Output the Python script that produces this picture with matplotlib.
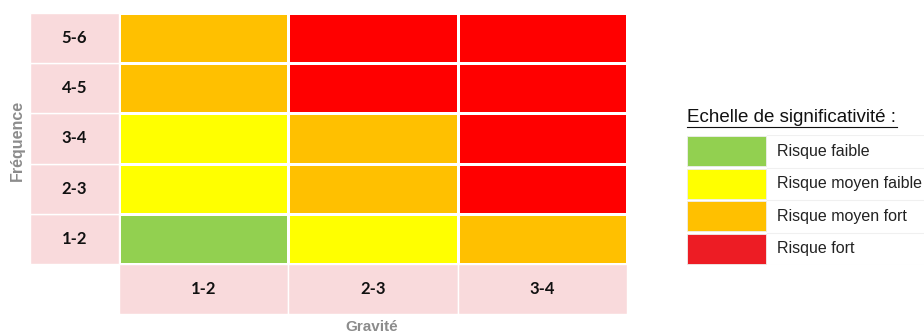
import numpy as np
import matplotlib.pyplot as plt
from matplotlib.patches import Rectangle
from matplotlib.colors import ListedColormap

freq_labels = ["1-2", "2-3", "3-4", "4-5", "5-6"]
grav_labels = ["1-2", "2-3", "3-4"]
# niveau de risque: 0 faible, 1 moyen faible, 2 moyen fort, 3 fort (ligne = fréquence)
risk = [
    [0, 1, 2],
    [1, 2, 3],
    [1, 2, 3],
    [2, 3, 3],
    [2, 3, 3],
]
level_names = ["Risque faible", "Risque moyen faible", "Risque moyen fort", "Risque fort"]
cell_colors = ["#92D050", "#FFFF00", "#FFC000", "#FF0000"]
legend_colors = ["#92D050", "#FFFF00", "#FFC000", "#ED1C24"]
pink = "#F9DADC"

W, H = 924, 334
fig = plt.figure(figsize=(W / 100, H / 100), dpi=100)

# matrice des risques
ax = fig.add_axes([30 / W, (H - 314) / H, (627 - 30) / W, (314 - 13) / H])
lab_w = 89 / ((627 - 119) / 3)
ax.set_xlim(-lab_w, 3)
ax.set_ylim(-1, 5)
ax.axis("off")

data = np.array(risk)
ax.pcolormesh(np.arange(4), np.arange(6), data, cmap=ListedColormap(cell_colors),
              vmin=-0.5, vmax=3.5, edgecolors="white", linewidth=1.0)

for i, lab in enumerate(freq_labels):
    ax.add_patch(Rectangle((-lab_w, i), lab_w, 1, facecolor=pink, edgecolor="white", lw=1.0))
    ax.text(-lab_w / 2, i + 0.5, lab, ha="center", va="center", fontsize=12,
            fontweight="bold", family="Lato", color="#111111")
for j, lab in enumerate(grav_labels):
    ax.add_patch(Rectangle((j, -1), 1, 1, facecolor=pink, edgecolor="white", lw=1.0))
    ax.text(j + 0.5, -0.5, lab, ha="center", va="center", fontsize=12,
            fontweight="bold", family="Lato", color="#111111")

fig.text(17 / W, 1 - 140 / H, "Fréquence", rotation=90, ha="center", va="center",
         fontsize=11.5, fontweight="bold", color="#8c8c8c", family="Liberation Sans")
fig.text(372 / W, 1 - 327 / H, "Gravité", ha="center", va="center",
         fontsize=11, fontweight="bold", color="#8c8c8c", family="Liberation Sans")

# échelle de significativité
lg = fig.add_axes([687 / W, (H - 265) / H, (W - 687) / W, (265 - 135) / H])
lg.set_xlim(0, W - 687)
lg.set_ylim(4, 0)
lg.axis("off")
lg.barh(np.arange(4) + 0.5, 79, height=0.93, color=legend_colors, edgecolor="#eeeeee", lw=0.6)
for k, name in enumerate(level_names):
    lg.text(90, k + 0.5, name, va="center", fontsize=11.5, family="Liberation Sans",
            color="#222222")
    lg.axhline(k, xmin=80 / (W - 687), color="#f0f0f0", lw=0.8)
lg.axhline(4, xmin=80 / (W - 687), color="#f0f0f0", lw=0.8)

fig.text(687 / W, 1 - 118 / H, "Echelle de significativité :", ha="left", va="center",
         fontsize=13.5, family="Liberation Sans", color="#111111")
fig.add_artist(plt.Line2D([687 / W, 897 / W], [1 - 127 / H, 1 - 127 / H], color="#111111", lw=0.8))

fig.savefig("out.png", dpi=100)
